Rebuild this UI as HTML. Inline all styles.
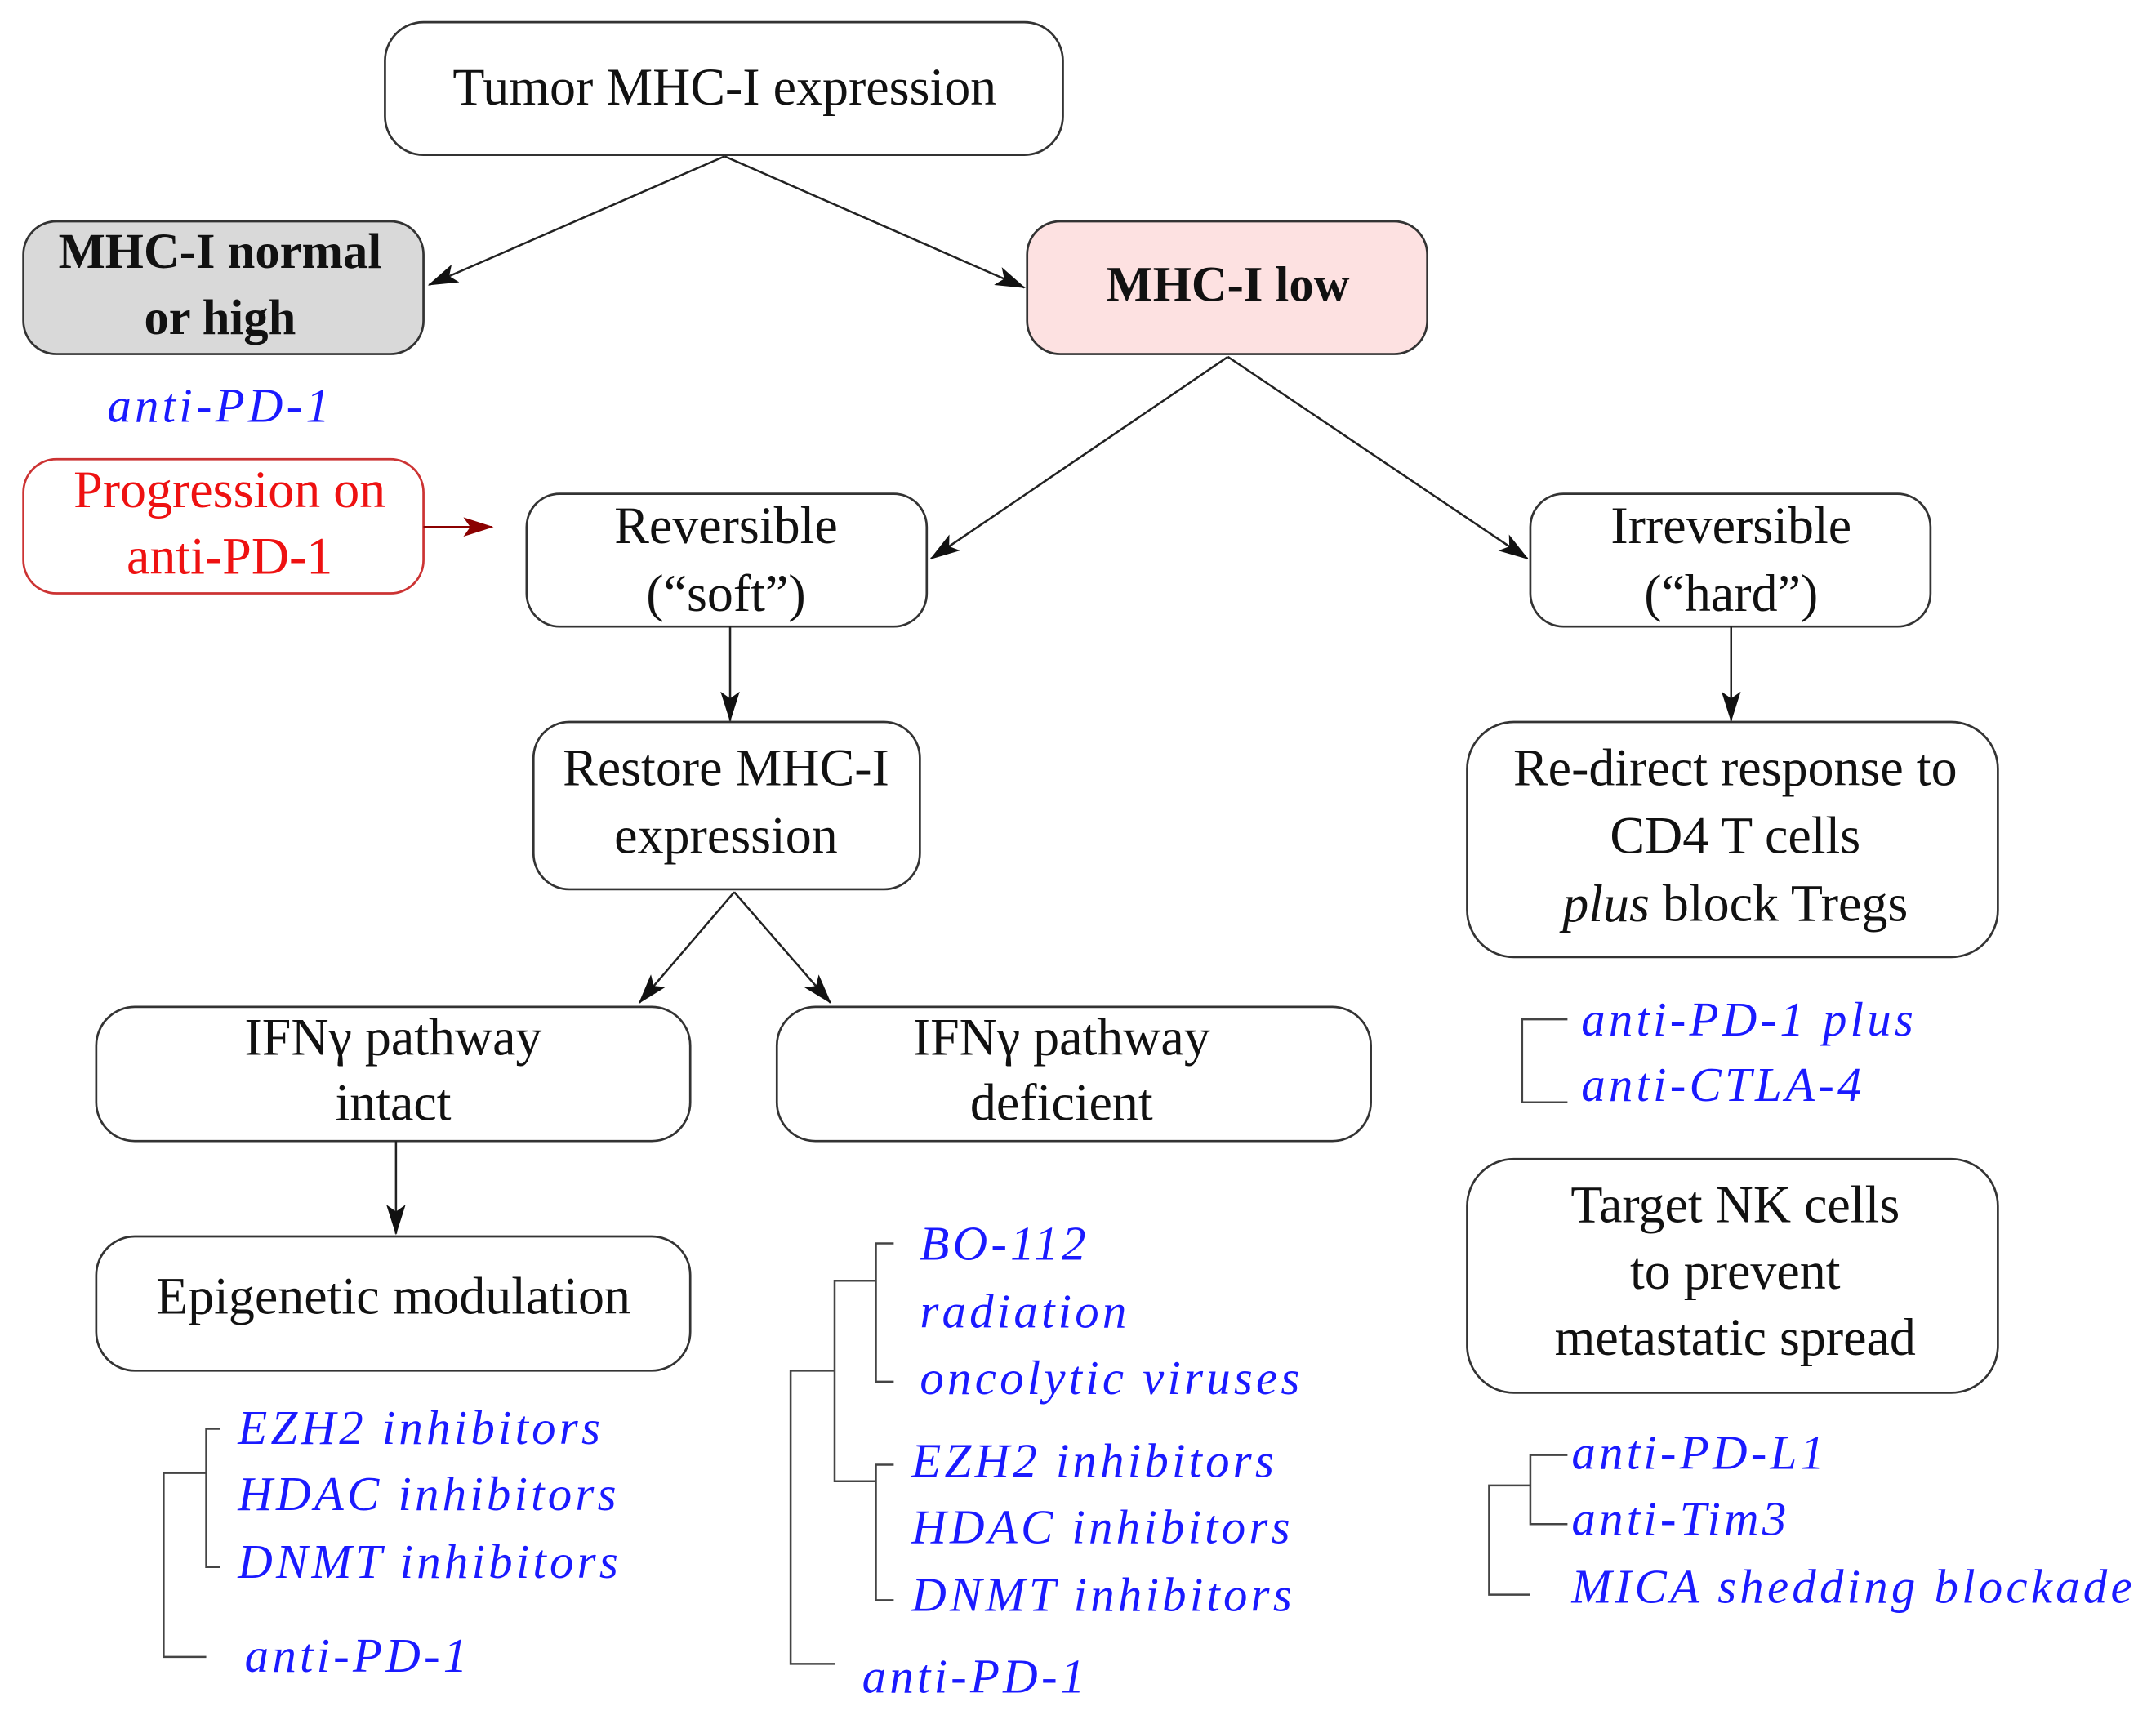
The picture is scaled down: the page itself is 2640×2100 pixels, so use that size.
<!DOCTYPE html>
<html><head><meta charset="utf-8"><style>
html,body{margin:0;padding:0;background:#fff;}
svg{display:block;}
text{font-family:"Liberation Serif",serif;dominant-baseline:central;text-anchor:middle;transform:translateY(-3px);}
.b{font-size:38px;fill:#111;}
.bb{font-size:36px;fill:#111;font-weight:bold;}
.i{font-size:35px;fill:#1a1aff;font-style:italic;text-anchor:start;letter-spacing:2.5px;}
.box{fill:#fff;stroke:#333;stroke-width:1.6;}
.ln{stroke:#222;stroke-width:1.5;fill:none;}
.br{stroke:#444;stroke-width:1.5;fill:none;}
</style></head><body>
<svg width="2640" height="2100" viewBox="0 0 1568 1240" preserveAspectRatio="none" xmlns="http://www.w3.org/2000/svg">
<defs>
<marker id="a" markerWidth="22" markerHeight="14" refX="21" refY="7" orient="auto" markerUnits="userSpaceOnUse"><path d="M0,0 L22,7 L0,14 L5,7 z" fill="#111"/></marker>
<marker id="r" markerWidth="22" markerHeight="14" refX="21" refY="7" orient="auto" markerUnits="userSpaceOnUse"><path d="M0,0 L22,7 L0,14 L5,7 z" fill="#8b0000"/></marker>
</defs>
<rect class="box" x="280" y="16" width="493" height="96" rx="28"/>
<text class="b" x="527" y="66">Tumor MHC-I expression</text>
<rect x="17" y="160" width="291" height="96" rx="24" fill="#d9d9d9" stroke="#333" stroke-width="1.6"/>
<text class="bb" x="160" y="185">MHC-I normal</text>
<text class="bb" x="160" y="233">or high</text>
<rect x="747" y="160" width="291" height="96" rx="24" fill="#fde1e1" stroke="#333" stroke-width="1.6"/>
<text class="bb" x="893" y="209">MHC-I low</text>
<text class="i" x="78" y="296">anti-PD-1</text>
<rect x="17" y="332" width="291" height="97" rx="24" fill="#fff" stroke="#cc3333" stroke-width="1.6"/>
<text class="b" x="167" y="357" style="fill:#ee1111">Progression on</text>
<text class="b" x="167" y="405" style="fill:#ee1111">anti-PD-1</text>
<rect class="box" x="383" y="357" width="291" height="96" rx="24"/>
<text class="b" x="528" y="383">Reversible</text>
<text class="b" x="528" y="432">(“soft”)</text>
<rect class="box" x="1113" y="357" width="291" height="96" rx="24"/>
<text class="b" x="1259" y="383">Irreversible</text>
<text class="b" x="1259" y="432">(“hard”)</text>
<rect class="box" x="388" y="522" width="281" height="121" rx="26"/>
<text class="b" x="528" y="558">Restore MHC-I</text>
<text class="b" x="528" y="607">expression</text>
<rect class="box" x="1067" y="522" width="386" height="170" rx="34"/>
<text class="b" x="1262" y="558">Re-direct response to</text>
<text class="b" x="1262" y="607">CD4 T cells</text>
<text class="b" x="1262" y="656"><tspan font-style="italic">plus</tspan> block Tregs</text>
<rect class="box" x="70" y="728" width="432" height="97" rx="28"/>
<text class="b" x="286" y="753">IFNγ pathway</text>
<text class="b" x="286" y="800">intact</text>
<rect class="box" x="565" y="728" width="432" height="97" rx="28"/>
<text class="b" x="772" y="753">IFNγ pathway</text>
<text class="b" x="772" y="800">deficient</text>
<rect class="box" x="70" y="894" width="432" height="97" rx="28"/>
<text class="b" x="286" y="940">Epigenetic modulation</text>
<rect class="box" x="1067" y="838" width="386" height="169" rx="34"/>
<text class="b" x="1262" y="874">Target NK cells</text>
<text class="b" x="1262" y="922">to prevent</text>
<text class="b" x="1262" y="970">metastatic spread</text>
<line class="ln" x1="527" y1="113" x2="312" y2="206" marker-end="url(#a)"/>
<line class="ln" x1="527" y1="113" x2="745" y2="208" marker-end="url(#a)"/>
<line x1="308" y1="381" x2="358" y2="381" stroke="#8b0000" stroke-width="1.5" marker-end="url(#r)"/>
<line class="ln" x1="893" y1="258" x2="677" y2="404" marker-end="url(#a)"/>
<line class="ln" x1="893" y1="258" x2="1111" y2="404" marker-end="url(#a)"/>
<line class="ln" x1="531" y1="453" x2="531" y2="521" marker-end="url(#a)"/>
<line class="ln" x1="1259" y1="453" x2="1259" y2="521" marker-end="url(#a)"/>
<line class="ln" x1="534" y1="645" x2="465" y2="725" marker-end="url(#a)"/>
<line class="ln" x1="534" y1="645" x2="604" y2="725" marker-end="url(#a)"/>
<line class="ln" x1="288" y1="825" x2="288" y2="892" marker-end="url(#a)"/>
<path class="br" d="M160,1033 H150 V1133 H160 M150,1065 H119 V1198 H150"/>
<text class="i" x="173" y="1035">EZH2 inhibitors</text>
<text class="i" x="173" y="1083">HDAC inhibitors</text>
<text class="i" x="173" y="1132">DNMT inhibitors</text>
<text class="i" x="178" y="1200">anti-PD-1</text>
<path class="br" d="M650,899 H637 V999 H650 M650,1059 H637 V1157 H650 M637,926 H607 V1071 H637 M607,991 H575 V1203 H607"/>
<text class="i" x="669" y="902">BO-112</text>
<text class="i" x="669" y="951">radiation</text>
<text class="i" x="669" y="999">oncolytic viruses</text>
<text class="i" x="663" y="1059">EZH2 inhibitors</text>
<text class="i" x="663" y="1107">HDAC inhibitors</text>
<text class="i" x="663" y="1156">DNMT inhibitors</text>
<text class="i" x="627" y="1215">anti-PD-1</text>
<path class="br" d="M1140,737 H1107 V797 H1140"/>
<text class="i" x="1150" y="740">anti-PD-1 plus</text>
<text class="i" x="1150" y="787">anti-CTLA-4</text>
<path class="br" d="M1140,1052 H1113 V1102 H1140 M1113,1074 H1083 V1153 H1113"/>
<text class="i" x="1143" y="1053">anti-PD-L1</text>
<text class="i" x="1143" y="1101">anti-Tim3</text>
<text class="i" x="1143" y="1150">MICA shedding blockade</text>
</svg>
</body></html>
